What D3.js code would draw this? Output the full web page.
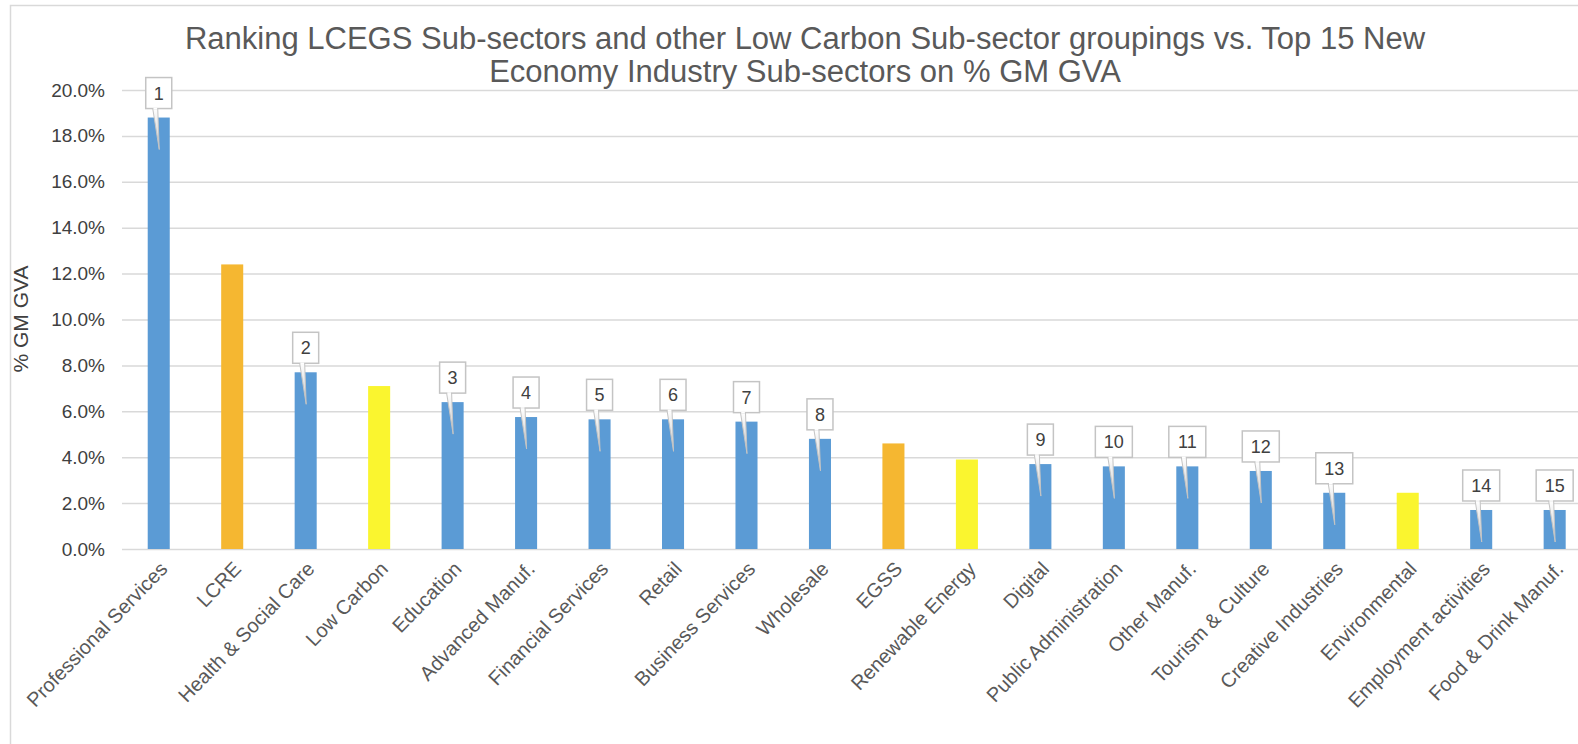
<!DOCTYPE html>
<html>
<head>
<meta charset="utf-8">
<script src="https://cdn.jsdelivr.net/npm/d3@7"></script>
<style>
  html, body { margin: 0; padding: 0; background: #ffffff; }
  svg { display: block; font-family: "Liberation Sans", Arial, Helvetica, sans-serif; }
</style>
</head>
<body>
<svg id="chart" width="1578" height="744"></svg>
<script>
// Sub-sectors in ranked display order
const sectors = [
  "Professional Services", "LCRE", "Health & Social Care", "Low Carbon", "Education",
  "Advanced Manuf.", "Financial Services", "Retail", "Business Services", "Wholesale",
  "EGSS", "Renewable Energy", "Digital", "Public Administration", "Other Manuf.",
  "Tourism & Culture", "Creative Industries", "Environmental", "Employment activities",
  "Food & Drink Manuf."
];

// Share of Greater Manchester GVA, in percent
const gvaShare = [
  18.8, 12.4, 7.7, 7.1, 6.4,
  5.75, 5.65, 5.65, 5.55, 4.8,
  4.6, 3.9, 3.7, 3.6, 3.6,
  3.4, 2.45, 2.45, 1.7, 1.7
];

// Grouping: "ne" = New Economy industry, "lcegs" = LCEGS total groupings, "lc" = low carbon sub-sectors
const sectorGroup = [
  "ne", "lcegs", "ne", "lc", "ne",
  "ne", "ne", "ne", "ne", "ne",
  "lcegs", "lc", "ne", "ne", "ne",
  "ne", "ne", "lc", "ne", "ne"
];

// Rank among the top 15 New Economy sub-sectors (blank where not ranked)
const rankLabels = [
  "1", "", "2", "", "3",
  "4", "5", "6", "7", "8",
  "", "", "9", "10", "11",
  "12", "13", "", "14", "15"
];

const yTicks = [0, 2, 4, 6, 8, 10, 12, 14, 16, 18, 20];

const titleLines = [
  "Ranking LCEGS Sub-sectors and other Low Carbon Sub-sector groupings vs. Top 15 New",
  "Economy Industry Sub-sectors on % GM GVA"
];
const yTitle = "% GM GVA";

const groupColor = { ne: "#5B9BD5", lcegs: "#F5B731", lc: "#FAF52F" };

const rows = sectors.map((s, i) => ({
  sector: s, value: gvaShare[i], group: sectorGroup[i], rank: rankLabels[i]
}));

const svg = d3.select("#chart");

const plot = { left: 122, right: 1591.4, top: 90, bottom: 549 };

// Outer chart frame
svg.append("rect")
  .attr("x", 10.5).attr("y", 5.5)
  .attr("width", 1600).attr("height", 760)
  .attr("fill", "none").attr("stroke", "#d9d9d9").attr("stroke-width", 1.5);

const x = d3.scaleBand()
  .domain(sectors)
  .range([plot.left, plot.right])
  .paddingInner(0.7)
  .paddingOuter(0.35);

const y = d3.scaleLinear()
  .domain([0, 20])
  .range([plot.bottom, plot.top]);

// Y axis with full-width gridlines
const yAxis = d3.axisLeft(y)
  .tickValues(yTicks)
  .tickSizeInner(-(plot.right - plot.left))
  .tickSizeOuter(0)
  .tickPadding(17)
  .tickFormat(d => d.toFixed(1) + "%");

const gy = svg.append("g")
  .attr("transform", `translate(${plot.left},0)`)
  .call(yAxis);
gy.select(".domain").remove();
gy.selectAll(".tick line").attr("stroke", "#d9d9d9").attr("stroke-width", 1.5);
gy.selectAll(".tick text")
  .attr("fill", "#404040")
  .style("font-size", "19px");

// Bars
svg.append("g").selectAll("rect")
  .data(rows)
  .join("rect")
  .attr("x", d => x(d.sector))
  .attr("width", x.bandwidth())
  .attr("y", d => y(d.value))
  .attr("height", d => y(0) - y(d.value))
  .attr("fill", d => groupColor[d.group]);

// X axis labels, rotated
const xAxis = d3.axisBottom(x).tickSize(0).tickPadding(0);
const gx = svg.append("g")
  .attr("transform", `translate(0,${plot.bottom})`)
  .call(xAxis);
gx.select(".domain").remove();
gx.selectAll(".tick text")
  .attr("fill", "#595959")
  .style("font-size", "20px")
  .attr("text-anchor", "end")
  .attr("dy", null)
  .attr("y", 0)
  .attr("transform", "translate(10,21) rotate(-46)");

// Rank callouts above the New Economy bars
const defs = svg.append("defs");
const grad = defs.append("linearGradient")
  .attr("id", "tailFade")
  .attr("x1", 0).attr("y1", 0).attr("x2", 0).attr("y2", 1);
grad.append("stop").attr("offset", "0%").attr("stop-color", "#ffffff");
grad.append("stop").attr("offset", "100%").attr("stop-color", "#c8c8c8");

const callouts = svg.append("g").selectAll("g")
  .data(rows.filter(d => d.rank !== ""))
  .join("g")
  .attr("transform", d => `translate(${x(d.sector) + x.bandwidth() / 2},${y(d.value)})`);

callouts.each(function (d) {
  const g = d3.select(this);
  const w = d.rank.length > 1 ? 37 : 26;
  const h = 31;
  const boxBottom = -9;
  // pointer tail from the box into the bar
  g.append("path")
    .attr("d", `M${-6},${boxBottom} L${-1},${boxBottom} L${0.5},${32} Z`)
    .attr("fill", "url(#tailFade)")
    .attr("stroke", "#c4c4c4")
    .attr("stroke-width", 1);
  g.append("rect")
    .attr("x", -w / 2).attr("y", boxBottom - h)
    .attr("width", w).attr("height", h)
    .attr("fill", "#ffffff")
    .attr("stroke", "#c4c4c4")
    .attr("stroke-width", 1.5);
  // cover the seam where the tail joins the box
  g.append("line")
    .attr("x1", -5.3).attr("x2", -1.6)
    .attr("y1", boxBottom).attr("y2", boxBottom)
    .attr("stroke", "#ffffff").attr("stroke-width", 1.6);
  g.append("text")
    .attr("x", 0).attr("y", boxBottom - h / 2 + 6.5)
    .attr("text-anchor", "middle")
    .attr("fill", "#404040")
    .style("font-size", "18px")
    .text(d.rank);
});

// Y axis title
svg.append("text")
  .attr("transform", `translate(28,319) rotate(-90)`)
  .attr("text-anchor", "middle")
  .attr("fill", "#404040")
  .style("font-size", "21px")
  .text(yTitle);

// Chart title
svg.append("g").selectAll("text")
  .data(titleLines)
  .join("text")
  .attr("x", 805)
  .attr("y", (d, i) => 49 + i * 33)
  .attr("text-anchor", "middle")
  .attr("fill", "#595959")
  .style("font-size", "31px")
  .text(d => d);
</script>
</body>
</html>
